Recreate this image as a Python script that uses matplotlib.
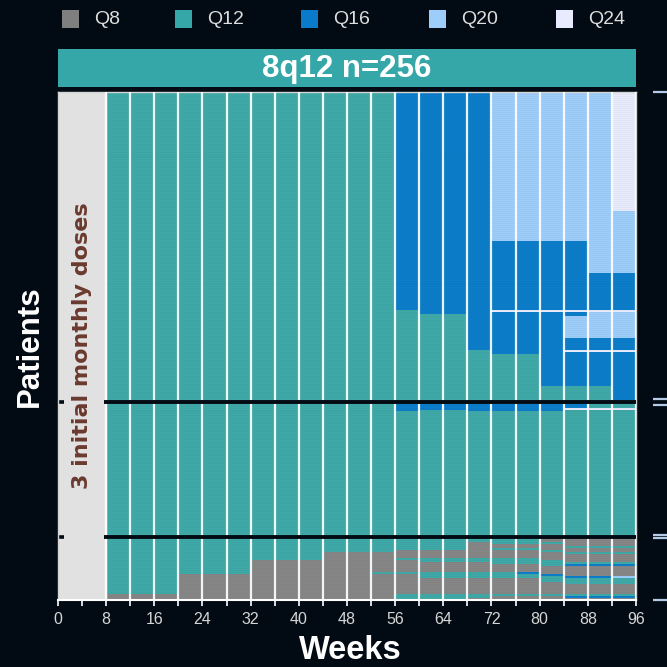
import numpy as np
import matplotlib
matplotlib.use("Agg")
import matplotlib.pyplot as plt
from matplotlib.colors import ListedColormap, BoundaryNorm
from matplotlib.patches import Rectangle

# ---------------------------------------------------------------- data
intervals = ["Q8", "Q12", "Q16", "Q20", "Q24"]
interval_colors = ["#868686", "#3fa9a8", "#0c7dc9", "#9dcdf9", "#e8ebfc"]
legend_colors = ["#7f7f7f", "#36a7a9", "#0a7acb", "#9dcdfa", "#e8ebfd"]

window_edges = list(range(8, 100, 4))          # 4-week visit windows, weeks 8..96
x_tick_labels = list(range(0, 100, 8))
panel_title = "8q12 n=256"
loading_label = "3 initial monthly doses"

# Each window: dosing interval per patient, stacked bottom-to-top as (interval, patients).
# Patients shortened to Q8 at some point (32 patients)
q8_group = [
    [("Q8", 3), ("Q12", 29)],
    [("Q8", 3), ("Q12", 29)],
    [("Q8", 3), ("Q12", 29)],
    [("Q8", 13), ("Q12", 19)],
    [("Q8", 13), ("Q12", 19)],
    [("Q8", 13), ("Q12", 19)],
    [("Q8", 20), ("Q12", 12)],
    [("Q8", 20), ("Q12", 12)],
    [("Q8", 20), ("Q12", 12)],
    [("Q8", 24), ("Q12", 8)],
    [("Q8", 24), ("Q12", 8)],
    [("Q8", 13), ("Q12", 1), ("Q8", 10), ("Q12", 8)],
    [("Q12", 3), ("Q8", 10), ("Q12", 1), ("Q8", 6), ("Q12", 1), ("Q8", 4), ("Q12", 7)],
    [("Q12", 3), ("Q8", 8), ("Q12", 3), ("Q8", 5), ("Q12", 2), ("Q8", 4), ("Q12", 7)],
    [("Q12", 3), ("Q8", 8), ("Q12", 3), ("Q8", 5), ("Q12", 2), ("Q8", 4), ("Q12", 7)],
    [("Q8", 1), ("Q12", 2), ("Q8", 8), ("Q12", 3), ("Q8", 5), ("Q12", 2), ("Q8", 8), ("Q12", 3)],
    [("Q8", 2), ("Q12", 1), ("Q8", 8), ("Q12", 3), ("Q8", 4), ("Q12", 3), ("Q8", 4), ("Q12", 1),
     ("Q8", 2), ("Q12", 4)],
    [("Q8", 2), ("Q12", 1), ("Q8", 8), ("Q12", 2), ("Q16", 1), ("Q8", 4), ("Q12", 3), ("Q8", 4),
     ("Q12", 1), ("Q8", 2), ("Q12", 4)],
    [("Q8", 2), ("Q12", 1), ("Q8", 6), ("Q12", 3), ("Q16", 1), ("Q8", 4), ("Q12", 3), ("Q8", 4),
     ("Q12", 1), ("Q8", 3), ("Q12", 1), ("Q8", 3)],
    [("Q8", 1), ("Q16", 1), ("Q12", 1), ("Q8", 5), ("Q12", 3), ("Q16", 1), ("Q8", 5), ("Q16", 1),
     ("Q12", 1), ("Q8", 4), ("Q12", 1), ("Q8", 2), ("Q12", 1), ("Q8", 5)],
    [("Q8", 1), ("Q16", 1), ("Q12", 1), ("Q8", 5), ("Q12", 3), ("Q16", 1), ("Q8", 5), ("Q16", 1),
     ("Q12", 1), ("Q8", 4), ("Q12", 1), ("Q8", 2), ("Q12", 1), ("Q8", 5)],
    [("Q8", 1), ("Q16", 1), ("Q12", 1), ("Q8", 5), ("Q12", 3), ("Q20", 1), ("Q8", 5), ("Q16", 1),
     ("Q12", 1), ("Q8", 4), ("Q12", 1), ("Q8", 2), ("Q12", 1), ("Q8", 5)],
]

# Patients who stayed at Q12 (68 patients)
q12_group = [[("Q12", 68)]] * 12 + [
    [("Q12", 63), ("Q16", 5)],
    [("Q12", 64), ("Q16", 4)],
    [("Q12", 64), ("Q16", 4)],
    [("Q12", 63), ("Q16", 5)],
    [("Q12", 63), ("Q16", 4), ("Q20", 1)],
    [("Q12", 63), ("Q16", 4), ("Q20", 1)],
    [("Q12", 63), ("Q16", 5)],
    [("Q12", 64), ("Q24", 1), ("Q16", 3)],
    [("Q12", 64), ("Q24", 1), ("Q12", 3)],
    [("Q12", 64), ("Q24", 1), ("Q12", 3)],
]

# Patients extended to Q16 or longer (156 patients)
extended_group = [[("Q12", 156)]] * 12 + [
    [("Q12", 46), ("Q16", 110)],
    [("Q12", 44), ("Q16", 112)],
    [("Q12", 44), ("Q16", 112)],
    [("Q12", 26), ("Q16", 130)],
    [("Q12", 24), ("Q16", 21), ("Q24", 1), ("Q16", 35), ("Q20", 75)],
    [("Q12", 24), ("Q16", 21), ("Q24", 1), ("Q16", 35), ("Q20", 75)],
    [("Q12", 8), ("Q16", 37), ("Q24", 1), ("Q16", 35), ("Q20", 75)],
    [("Q12", 8), ("Q16", 17), ("Q24", 1), ("Q16", 6), ("Q20", 11), ("Q16", 2), ("Q24", 1),
     ("Q16", 35), ("Q20", 75)],
    [("Q12", 8), ("Q16", 17), ("Q24", 1), ("Q16", 6), ("Q20", 13), ("Q24", 1), ("Q16", 19),
     ("Q20", 91)],
    [("Q12", 1), ("Q16", 24), ("Q24", 1), ("Q16", 6), ("Q20", 13), ("Q24", 1), ("Q16", 19),
     ("Q20", 31), ("Q24", 60)],
]

groups = [q8_group, q12_group, extended_group]

# ---------------------------------------------------------------- build patient x window grid
def expand(column):
    codes = []
    for name, n in column:
        codes.extend([intervals.index(name)] * n)
    return codes

blocks = []
group_sizes = []
for g in groups:
    cols = [expand(c) for c in g]
    size = len(cols[0])
    assert all(len(c) == size for c in cols)
    group_sizes.append(size)
    blocks.append(np.array(cols).T)
grid = np.vstack(blocks)
n_patients = grid.shape[0]
boundaries = np.cumsum(group_sizes)[:-1]

# ---------------------------------------------------------------- figure
bg = "#020b13"
fig = plt.figure(figsize=(6.67, 6.67), dpi=100, facecolor=bg)
W = H = 667.0

def fx(px):
    return px / W

def fy(py):
    return 1 - py / H

ax = fig.add_axes([fx(58), fy(600), fx(636) - fx(58), fy(92) - fy(600)])
ax.set_facecolor(bg)

cmap = ListedColormap(interval_colors)
norm = BoundaryNorm(np.arange(-0.5, len(intervals) + 0.5), cmap.N)
ax.pcolormesh(window_edges, np.arange(n_patients + 1), grid, cmap=cmap, norm=norm,
              shading="flat", zorder=1)

# faint per-patient striation
ax.hlines(np.arange(1, n_patients), window_edges[0], window_edges[-1],
          color="black", alpha=0.05, lw=0.4, zorder=2)

# loading phase band
ax.axvspan(0, window_edges[0], color="#e1e1e1", zorder=1)
ax.text(window_edges[0] / 2, n_patients / 2, loading_label, rotation=90,
        ha="center", va="center", color="#6b3a2e", fontsize=16,
        fontweight="bold", family="DejaVu Sans", zorder=5)

# window separators
ax.vlines(window_edges, 0, n_patients, color="white", lw=1.6, alpha=0.92, zorder=3)

# group separators
ax.hlines(boundaries, 7.6, window_edges[-1], color=bg, lw=2.8, zorder=4)

ax.set_xlim(0, 96)
ax.set_ylim(0, n_patients)

ax.set_xticks(x_tick_labels)
ax.set_xticklabels([str(v) for v in x_tick_labels], family="Liberation Sans",
                   fontsize=11.5, color="#d6d6d6")
ax.set_xticks(list(range(4, 100, 8)), minor=True)
ax.tick_params(axis="x", which="both", colors="white", length=4, width=1.2, pad=4.5)
ax.tick_params(axis="x", which="major", labelcolor="#d6d6d6")

ax.set_yticks(boundaries)
ax.set_yticklabels([])
ax.tick_params(axis="y", direction="inout", length=9, width=2.6, colors=bg)

for side in ["top", "left", "right"]:
    ax.spines[side].set_color("#d4d4d4")
    ax.spines[side].set_linewidth(1.0)
ax.spines["bottom"].set_color("white")
ax.spines["bottom"].set_linewidth(1.5)

# right-hand group markers
ax2 = ax.twinx()
ax2.set_ylim(0, n_patients)
ax2.set_yticks([0, boundaries[0] - 1, boundaries[0] + 1,
                boundaries[1] - 1.5, boundaries[1] + 1.5, n_patients])
ax2.set_yticklabels([])
ax2.spines["right"].set_position(("outward", 12))
for s in ax2.spines.values():
    s.set_visible(False)
ax2.tick_params(axis="y", direction="out", length=10.5, width=1.6, colors="#b4cbe8")

# facet strip
strip = fig.add_axes([fx(58), fy(87), fx(636) - fx(58), fy(49) - fy(87)])
strip.set_facecolor("#36a7a9")
strip.set_xticks([])
strip.set_yticks([])
for s in strip.spines.values():
    s.set_visible(False)
strip.text(0.5, 0.47, panel_title, ha="center", va="center", color="white",
           fontsize=22.5, fontweight="bold", family="Liberation Sans",
           transform=strip.transAxes)

# axis titles
fig.text(fx(350), fy(659), "Weeks", ha="center", va="baseline", color="white",
         fontsize=23.5, fontweight="bold", family="Liberation Sans")
fig.text(fx(30), fy(346), "Patients", ha="center", va="center", rotation=90,
         color="white", fontsize=22.5, fontweight="bold", family="Liberation Sans")

# legend
key_left = [62, 175, 301, 429, 556]
for x0, name, col in zip(key_left, intervals, legend_colors):
    fig.patches.append(Rectangle((fx(x0), fy(28)), fx(17), fy(10) - fy(28),
                                 transform=fig.transFigure, facecolor=col,
                                 edgecolor="none"))
    fig.text(fx(x0 + 32), fy(19), name, ha="left", va="center", color="#dedede",
             fontsize=14, family="Liberation Sans")

fig.savefig("out.png", dpi=100, facecolor=bg)
